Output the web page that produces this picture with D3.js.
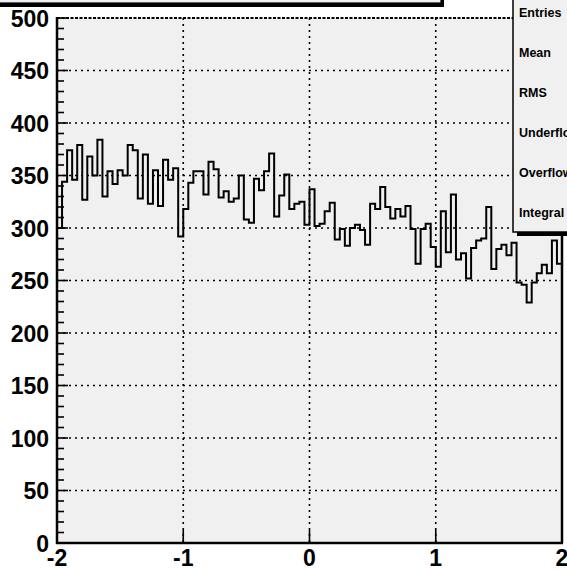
<!DOCTYPE html>
<html>
<head>
<meta charset="utf-8">
<script src="https://cdn.jsdelivr.net/npm/d3@7"></script>
<style>
  html, body { margin: 0; padding: 0; background: #ffffff; overflow: hidden; }
  svg { display: block; }
  text { font-family: "Liberation Sans", Arial, Helvetica, sans-serif; font-weight: bold; }
</style>
</head>
<body>
<svg id="chart" width="567" height="570"></svg>
<script>
// ---- data ----
const xDomain = [-2, 2];
const yDomain = [0, 500];
const nBins = 100;
const binValues = [
  300, 344, 374, 346, 379, 327, 368, 350, 384, 330,
  354, 342, 355, 350, 379, 374, 328, 370, 323, 355,
  321, 365, 346, 357, 292, 318, 343, 354, 354, 332,
  363, 356, 329, 335, 325, 328, 350, 308, 305, 347,
  336, 354, 371, 311, 331, 351, 318, 323, 325, 303,
  337, 302, 304, 316, 324, 289, 299, 283, 300, 303,
  298, 284, 323, 318, 339, 320, 309, 318, 311, 321,
  299, 266, 299, 304, 282, 263, 316, 277, 332, 270,
  276, 252, 281, 288, 290, 320, 261, 280, 284, 274,
  286, 248, 246, 229, 248, 257, 265, 257, 288, 266
];
const xTicks = [-2, -1, 0, 1, 2];
const xTickLabels = ["-2", "-1", "0", "1", "2"];
const yTicks = [0, 50, 100, 150, 200, 250, 300, 350, 400, 450, 500];
const yTickLabels = ["0", "50", "100", "150", "200", "250", "300", "350", "400", "450", "500"];
const statsLabels = ["Entries", "Mean", "RMS", "Underflow", "Overflow", "Integral"];

// ---- layout ----
const fL = 57, fR = 562, fT = 18, fB = 543;

const svg = d3.select("#chart");
const x = d3.scaleLinear().domain(xDomain).range([fL, fR]);
const y = d3.scaleLinear().domain(yDomain).range([fB, fT]);

// frame fill
svg.append("rect")
  .attr("x", fL).attr("y", fT)
  .attr("width", fR - fL).attr("height", fB - fT)
  .attr("fill", "#f0f0f0");

// grid
const grid = svg.append("g").attr("stroke", "#000").attr("stroke-width", 1.6)
  .attr("stroke-dasharray", "2,4").attr("fill", "none");
yTicks.filter(v => v > yDomain[0] && v < yDomain[1]).forEach(v => {
  grid.append("line").attr("x1", fL).attr("x2", fR)
    .attr("y1", y(v)).attr("y2", y(v));
});
xTicks.filter(v => v > xDomain[0] && v < xDomain[1]).forEach(v => {
  grid.append("line").attr("x1", x(v)).attr("x2", x(v))
    .attr("y1", fT).attr("y2", fB);
});

// top frame line (with grid at 500)
svg.append("line").attr("x1", fL).attr("x2", fR)
  .attr("y1", fT).attr("y2", fT)
  .attr("stroke", "#000").attr("stroke-width", 1.8).attr("stroke-dasharray", "3,1.5");

// histogram
const binW = (xDomain[1] - xDomain[0]) / nBins;
const pts = [[xDomain[0], 0]];
binValues.forEach((v, i) => pts.push([xDomain[0] + i * binW, v]));
pts.push([xDomain[1], binValues[nBins - 1]]);
pts.push([xDomain[1], 0]);
const line = d3.line().x(d => x(d[0])).y(d => y(d[1])).curve(d3.curveStepAfter);
svg.append("path").attr("d", line(pts))
  .attr("fill", "none").attr("stroke", "#000").attr("stroke-width", 2)
  .attr("stroke-linejoin", "miter");

// y axis with ticks inward
const yg = svg.append("g").attr("transform", `translate(${fL},0)`);
d3.range(0, 501, 10).forEach(v => {
  const major = v % 50 === 0;
  yg.append("line").attr("x1", 0).attr("x2", major ? 11 : 7)
    .attr("y1", y(v)).attr("y2", y(v))
    .attr("stroke", "#000").attr("stroke-width", 1.6);
});
yg.append("line").attr("x1", 0).attr("x2", 0).attr("y1", fT - 1).attr("y2", fB + 1)
  .attr("stroke", "#000").attr("stroke-width", 2.5);
yTicks.forEach((v, i) => {
  svg.append("text").attr("x", fL - 8).attr("y", y(v) + 8.5)
    .attr("text-anchor", "end").attr("font-size", 23).text(yTickLabels[i]);
});

// x axis
const xg = svg.append("g");
xTicks.forEach(v => {
  xg.append("line").attr("x1", x(v)).attr("x2", x(v))
    .attr("y1", fB).attr("y2", fB - 13)
    .attr("stroke", "#000").attr("stroke-width", 1.6);
});
xg.append("line").attr("x1", fL - 1).attr("x2", fR + 1).attr("y1", fB).attr("y2", fB)
  .attr("stroke", "#000").attr("stroke-width", 2.5);
xTicks.forEach((v, i) => {
  svg.append("text").attr("x", x(v)).attr("y", 566)
    .attr("text-anchor", "middle").attr("font-size", 23).text(xTickLabels[i]);
});

// right frame line
svg.append("line").attr("x1", fR).attr("x2", fR).attr("y1", fT).attr("y2", fB)
  .attr("stroke", "#000").attr("stroke-width", 2.5);

// title box (mostly off-canvas)
svg.append("rect").attr("x", -6).attr("y", -20).attr("width", 450).attr("height", 27).attr("fill", "#000");
svg.append("rect").attr("x", -10).attr("y", -24).attr("width", 451).attr("height", 27)
  .attr("fill", "#f0f0f0").attr("stroke", "#000").attr("stroke-width", 1.2);

// stats box (extends past the right edge)
const sbX = 513, sbBottom = 232;
svg.append("rect").attr("x", sbX + 4).attr("y", -10).attr("width", 100).attr("height", sbBottom + 14).attr("fill", "#000");
svg.append("rect").attr("x", sbX).attr("y", -14).attr("width", 100).attr("height", sbBottom + 14)
  .attr("fill", "#f0f0f0").attr("stroke", "#000").attr("stroke-width", 1.5);
statsLabels.forEach((s, i) => {
  svg.append("text").attr("x", sbX + 6).attr("y", 17 + i * 40)
    .attr("font-size", 12.5).text(s);
});
</script>
</body>
</html>
